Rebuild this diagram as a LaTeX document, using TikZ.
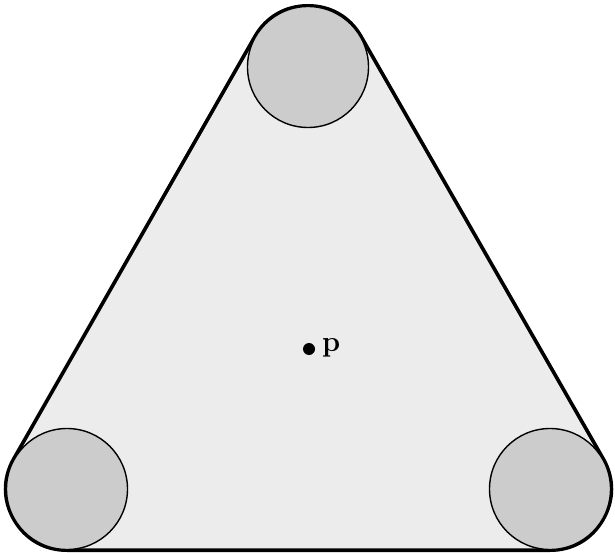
\documentclass[tikz,border=0pt]{standalone}
\begin{document}
\begin{tikzpicture}[x=1pt,y=-1pt,
  disc/.style={circle, draw=black, line width=1.4pt, fill=discgray, minimum size=121pt, inner sep=0pt},
  ptdot/.style={circle, fill=black, minimum size=12pt, inner sep=0pt}]
\definecolor{hullgray}{HTML}{ECECEC}
\definecolor{discgray}{HTML}{CCCCCC}
\useasboundingbox (0,0) rectangle (615,553);
\coordinate (T) at (308,67);
\coordinate (L) at (67,489);
\coordinate (R) at (550,489);
% hull outline and fill
\draw[line width=126pt, line join=round, black] (T) -- (L) -- (R) -- cycle;
\draw[line width=118.5pt, line join=round, hullgray, fill=hullgray] (T) -- (L) -- (R) -- cycle;
% discs
\node[disc] (dT) at (T) {};
\node[disc] (dL) at (L) {};
\node[disc] (dR) at (R) {};
% point p
\node[ptdot] (p) at (309,349) {};
\node[anchor=base west, inner sep=0pt, font=\fontsize{29}{32}\selectfont\bfseries] (plabel) at (322,351) {p};
\end{tikzpicture}
\end{document}
